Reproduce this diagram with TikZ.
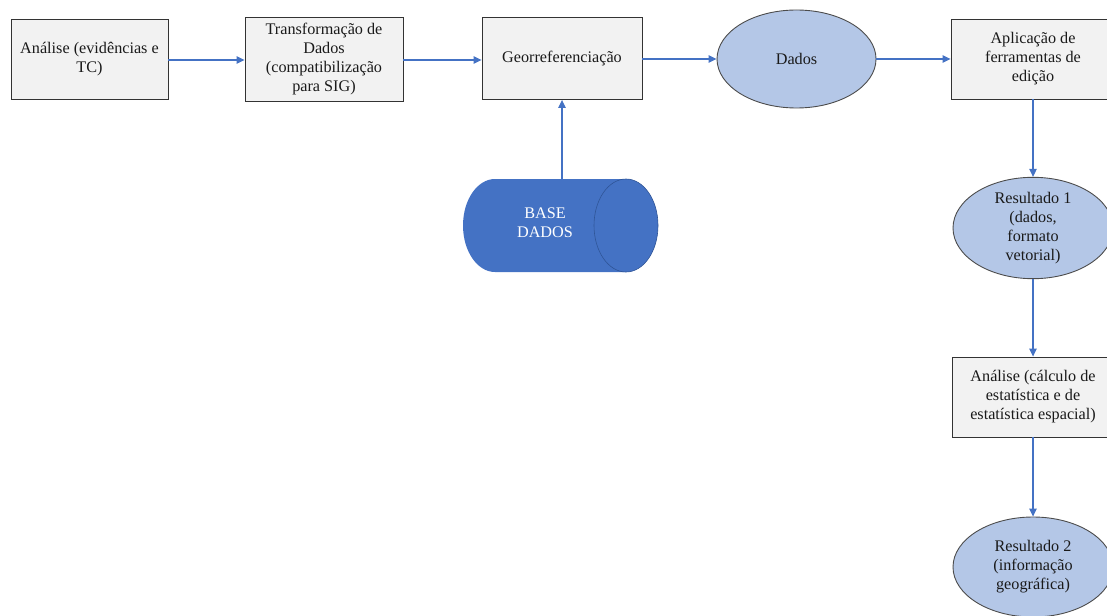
\documentclass[tikz,border=0pt]{standalone}
\usepackage{fontspec}
\setmainfont{Liberation Serif}
\usetikzlibrary{arrows.meta,shapes.geometric}
\definecolor{flowblue}{HTML}{4472C4}
\definecolor{boxfill}{HTML}{F2F2F2}
\definecolor{ellfill}{HTML}{B4C7E7}
\definecolor{capline}{HTML}{2F5597}
\definecolor{inkgray}{HTML}{1A1A1A}
\tikzset{
  txt/.style={font=\fontsize{16.2}{19}\selectfont, text=inkgray, align=center, inner sep=0pt},
  procbox/.style={txt, draw=black!80, line width=0.9pt, fill=boxfill},
  resultell/.style={txt, ellipse, draw=black!70, line width=0.9pt, fill=ellfill},
  flow/.style={draw=flowblue, line width=1.1pt, -{Triangle[length=8pt,width=7.5pt]}},
}
\begin{document}
\begin{tikzpicture}[x=1pt,y=-1pt]
  \useasboundingbox (0,0) rectangle (1107,615);
  \clip (0,0) rectangle (1107,615);

  % top row of processing steps
  \node[procbox, minimum width=157pt, minimum height=80pt] (ana) at (89.5,59.5)
    {Análise (evidências e\\TC)};
  \node[procbox, minimum width=158pt, minimum height=84pt] (trans) at (324,59)
    {Transformação de\\Dados\\(compatibilização\\para SIG)};
  \node[procbox, minimum width=160pt, minimum height=82pt] (geo) at (562,58.5)
    {Georreferenciação};
  \node[resultell, minimum width=159pt, minimum height=98pt] (dados) at (796.5,59)
    {Dados};
  \node[procbox, minimum width=164pt, minimum height=80pt] (edit) at (1033,59)
    {Aplicação de\\ferramentas de\\edição};

  % right column
  \node[resultell, minimum width=160pt, minimum height=100pt] (res1) at (1033,228)
    {Resultado 1\\(dados,\\formato\\vetorial)};
  \node[procbox, minimum width=162pt, minimum height=80pt] (stat) at (1033,397)
    {Análise (cálculo de\\estatística e de\\estatística espacial)};
  \node[resultell, minimum width=160pt, minimum height=100pt] (res2) at (1033,567)
    {Resultado 2\\(informação\\geográfica)};

  % database cylinder, lying on its side (y grows downwards here)
  \fill[flowblue] (495,179) -- (626,179)
    arc[start angle=-90, end angle=90, x radius=32, y radius=46.5]
    -- (495,272)
    arc[start angle=90, end angle=270, x radius=32, y radius=46.5] -- cycle;
  \draw[capline, line width=0.6pt] (626,225.5) ellipse[x radius=32, y radius=46.5];
  \node[txt, text=white] (base) at (545,223) {BASE\\DADOS};
  \coordinate (basetop) at (562,179);

  % connectors
  \draw[flow] (ana.east |- 0,60) -- (trans.west |- 0,60);
  \draw[flow] (trans.east |- 0,60) -- (geo.west |- 0,60);
  \draw[flow] (geo.east |- 0,59) -- (dados.west);
  \draw[flow] (dados.east) -- (edit.west |- 0,59);
  \draw[flow] (edit.south) -- (res1.north);
  \draw[flow] (res1.south) -- (stat.north);
  \draw[flow] (stat.south) -- (res2.north);
  \draw[flow] (basetop) -- (geo.south);
\end{tikzpicture}
\end{document}
